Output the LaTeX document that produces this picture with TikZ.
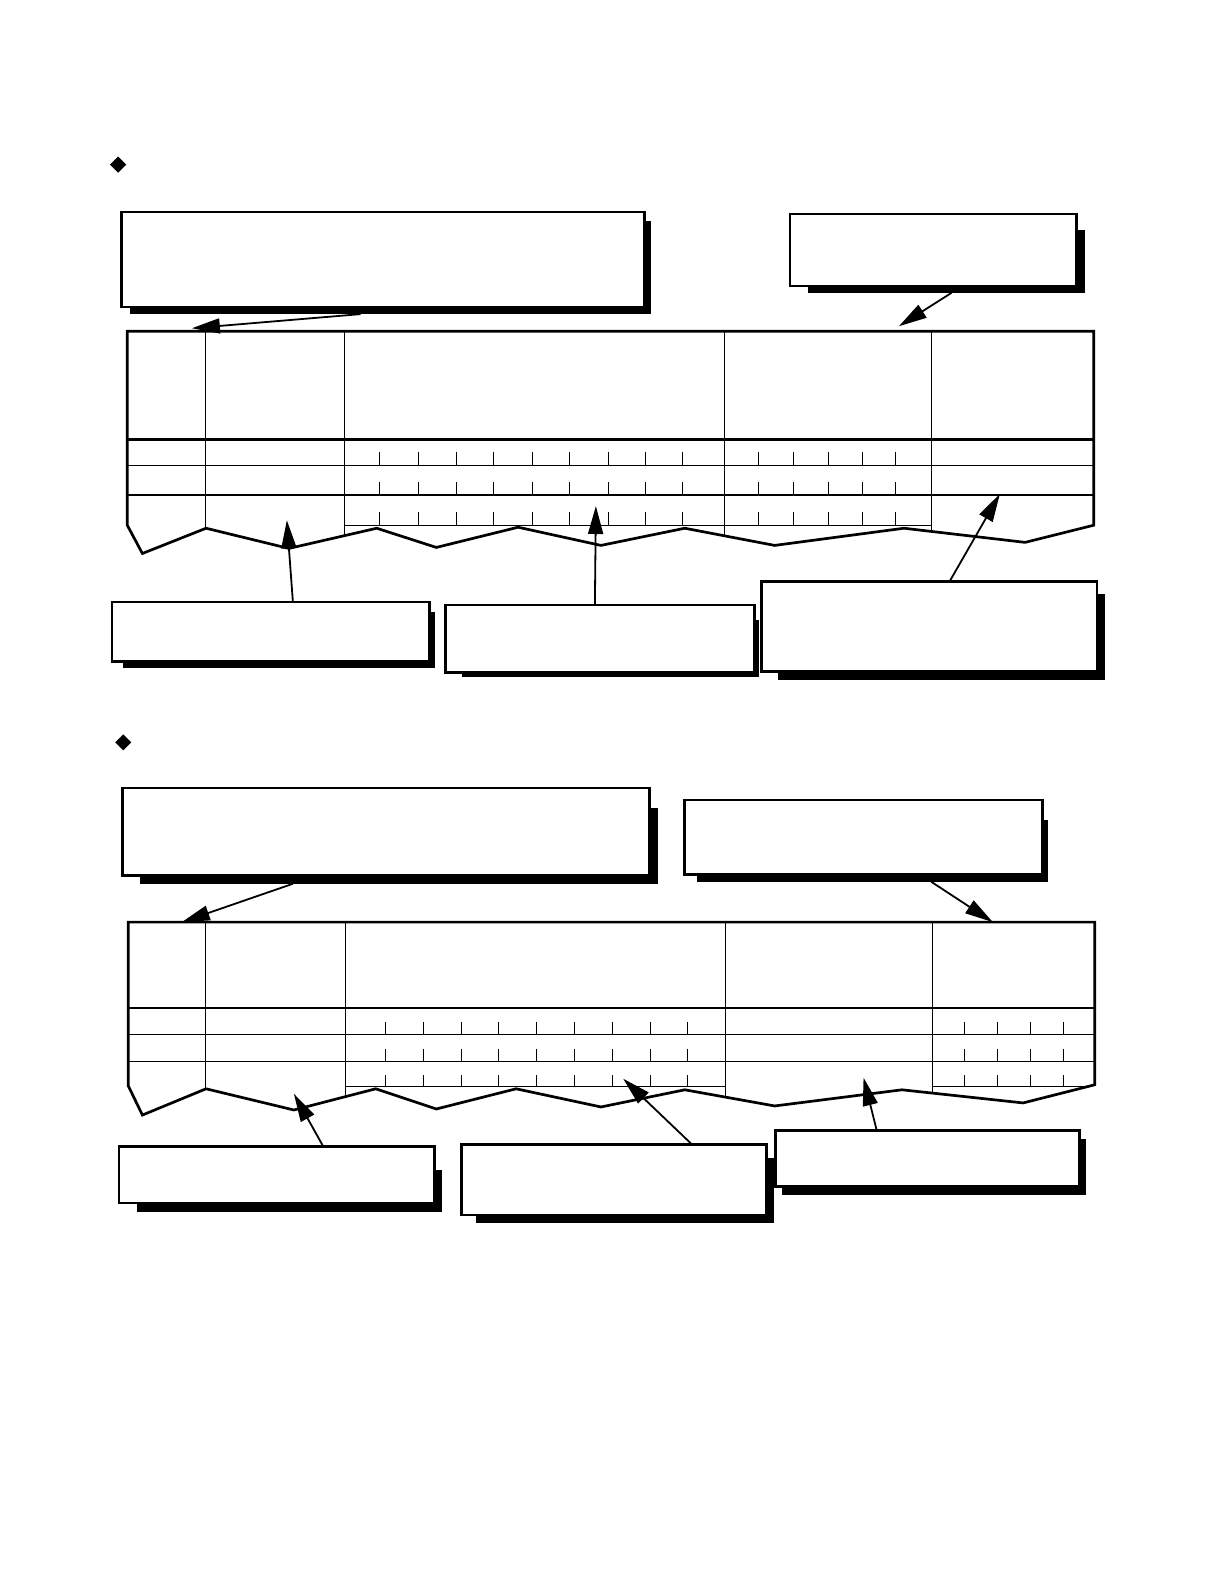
\documentclass[tikz,border=0pt]{standalone}
\usetikzlibrary{arrows.meta,fit,calc}
\tikzset{
  cbox/.style={draw=black, fill=white, line width=1.3bp, inner sep=0pt, outer sep=0pt},
  outline/.style={draw=black, line width=1.35bp, line join=miter},
  hdr/.style={line width=1.35bp},
  rowline/.style={line width=0.65bp},
  colline/.style={line width=0.5bp},
  tk/.style={line width=0.5bp},
  arr/.style={line width=0.9bp, -{Triangle[length=14bp,width=7.5bp]}},
  diam/.style={fill=black}
}
\newcommand\callbox[9]{%
  \fill[black] (#2+#6,#3+#7) rectangle (#4+#8,#5+#9);
  \node[cbox, fit={(#2,#3) (#4,#5)}] (#1) {};
}
\begin{document}
\begin{tikzpicture}[x=0.505bp,y=-0.505bp]
\useasboundingbox (0,0) rectangle (1211.88,1568.32);
\fill[white] (0,0) rectangle (1211.88,1568.32);

% ---------------- Section 1 ----------------
\fill[diam] (117,155) -- (125,163) -- (117,171) -- (109,163) -- cycle;

\callbox{A}{120}{210}{638}{304}{9}{9}{7}{7}
\callbox{B}{782}{212}{1066}{283}{18}{16}{8}{7}

% table 1
\def\tabA{(126,328) -- (1083,328) -- (1083,520) -- (1015,537) -- (895,523) -- (767,540) -- (678,523) -- (595,540) -- (513,522) -- (432,542) -- (373,523) -- (286,543) -- (204,523) -- (141,548) -- (126,520) -- cycle}
\begin{scope}
  \clip \tabA;
  \foreach \cx in {203,341,717,922} \draw[colline] (\cx,320) -- (\cx,560);
  \draw[hdr] (120,435) -- (1090,435);
  \draw[rowline] (120,461) -- (1090,461);
  \draw[rowline] (120,490) -- (1090,490);
  \draw[rowline] (341,520) -- (922,520);
  \foreach \yb in {461,490,520} {
    \foreach \tx in {376,414,452,489,527,564,602,639,676} \draw[tk] (\tx,\yb) -- ++(0,-13);
    \foreach \tx in {751,786,820,854,887} \draw[tk] (\tx,\yb) -- ++(0,-13);
  }
\end{scope}
\draw[outline] \tabA;

\callbox{C1}{111}{596}{425}{655}{11}{10}{6}{6}
\callbox{C2}{441}{599}{747}{666}{16}{15}{4}{4}
\callbox{C3}{754}{576}{1086}{665}{16}{12}{8}{8}

\coordinate (tA) at (190,325);
\coordinate (tB) at (890,323);
\coordinate (tC1) at (284,515);
\coordinate (tC2) at (590,501);
\coordinate (tC3) at (990,489);
\draw[arr] ($(A.south west)+(237,7)$) -- (tA);
\draw[arr] ($(B.south west)+(160,7)$) -- (tB);
\draw[arr] ($(C1.north west)+(179,0)$) -- (tC1);
\draw[arr] ($(C2.north west)+(148,0)$) -- (tC2);
\draw[arr] ($(C3.north west)+(186,0)$) -- (tC3);

% ---------------- Section 2 ----------------
\fill[diam] (122,727) -- (130,735) -- (122,743) -- (114,735) -- cycle;

\callbox{D}{121}{780}{643}{867}{18}{20}{8}{8}
\callbox{E}{678}{792}{1032}{866}{12}{20}{6}{7}

\def\tabB{(127,913) -- (1084,913) -- (1084,1074) -- (1013,1092) -- (893,1079) -- (767,1095) -- (678,1079) -- (595,1096) -- (511,1078) -- (432,1098) -- (372,1078) -- (291,1099) -- (204,1078) -- (141,1104) -- (127,1075) -- cycle}
\begin{scope}
  \clip \tabB;
  \foreach \cx in {203,342,718,923} \draw[colline] (\cx,905) -- (\cx,1115);
  \draw[hdr] (120,998) -- (1090,998);
  \draw[rowline] (120,1024) -- (1090,1024);
  \draw[rowline] (120,1051) -- (1090,1051);
  \draw[rowline] (342,1076) -- (718,1076);
  \draw[rowline] (923,1076) -- (1090,1076);
  \foreach \yb in {1024,1051,1076} {
    \foreach \tx in {382,419,457,494,531,569,606,644,681} \draw[tk] (\tx,\yb) -- ++(0,-12);
    \foreach \tx in {955,988,1020,1053} \draw[tk] (\tx,\yb) -- ++(0,-12);
  }
\end{scope}
\draw[outline] \tabB;

\callbox{F1}{118}{1135}{430}{1191}{18}{23}{8}{9}
\callbox{F2}{457}{1133}{759}{1203}{14}{14}{7}{8}
\callbox{F3}{768}{1119}{1069}{1175}{6}{9}{6}{8}

\coordinate (tD) at (180,913);
\coordinate (tE) at (983,913);
\coordinate (tF1) at (291,1083);
\coordinate (tF2) at (617,1068);
\coordinate (tF3) at (855,1067);
\draw[arr] ($(D.south west)+(169,8)$) -- (tD);
\draw[arr] ($(E.south west)+(244,7)$) -- (tE);
\draw[arr] ($(F1.north west)+(202,0)$) -- (tF1);
\draw[arr] ($(F2.north west)+(228,0)$) -- (tF2);
\draw[arr] ($(F3.north west)+(100,0)$) -- (tF3);
\end{tikzpicture}
\end{document}
